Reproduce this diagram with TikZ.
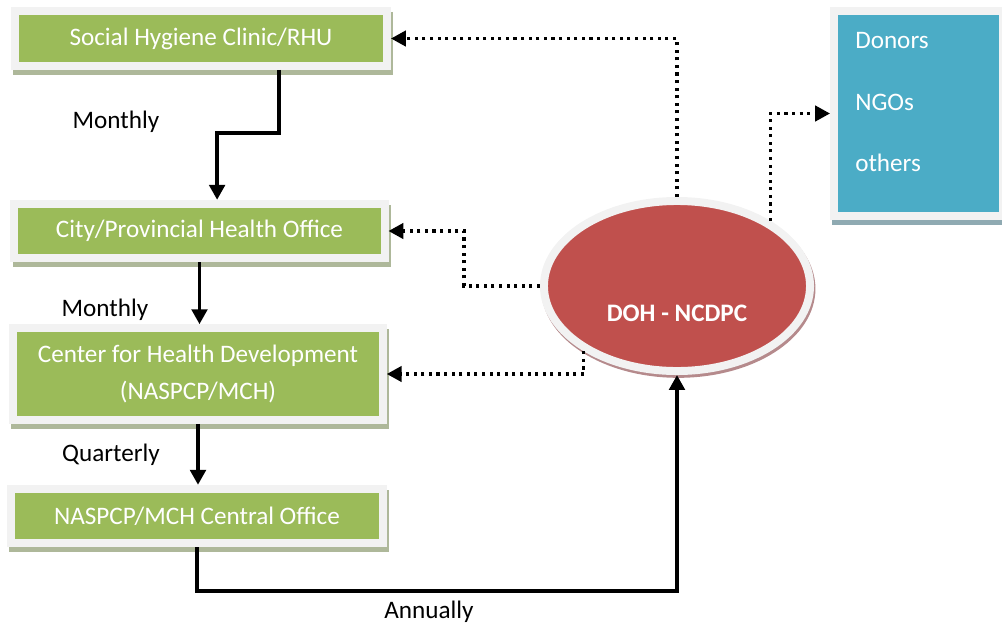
\documentclass[tikz,border=0pt]{standalone}
\usepackage{fontspec}
\setmainfont{Carlito}
\usetikzlibrary{arrows.meta,shapes.geometric,shadows}
\definecolor{boxgreen}{HTML}{9BBB59}
\definecolor{boxblue}{HTML}{4BACC6}
\definecolor{boxred}{HTML}{C0504D}
\definecolor{framegray}{HTML}{F2F2F2}
\definecolor{shadegreen}{HTML}{AEB89A}
\definecolor{shadeblue}{HTML}{8FAAB2}
\definecolor{shadered}{HTML}{B58A8C}
\newcommand{\chartfont}{\fontsize{17.9}{26.5}\selectfont}

\begin{document}
\begin{tikzpicture}[x=0.025cm,y=-0.025cm]
\tikzstyle{every node}+=[inner sep=0pt]
\tikzstyle{greenbox}=[draw=framegray, line width=5.67pt, fill=boxgreen, text=white,
  align=center, font=\chartfont, minimum width=9.3cm,
  drop shadow={shadow xshift=1.5pt, shadow yshift=-3.5pt, fill=shadegreen, draw=shadegreen, opacity=1}]
\tikzstyle{flow}=[black, line width=2.6pt, -{Triangle[length=10.6pt,width=11pt]}]
\tikzstyle{report}=[black, line width=2.2pt, dash pattern=on 2.2pt off 3.2pt,
  -{Triangle[length=10.6pt,width=11pt]}]
\tikzstyle{lbl}=[font=\chartfont, text=black]
\useasboundingbox (0,0) rectangle (1002,627);
% left column
\node [greenbox, minimum height=1.375cm] (shc) at (201,38.5) {Social Hygiene Clinic/RHU};
\node [greenbox, minimum width=9.25cm, minimum height=1.36cm] (cpho) at (199.5,231) {City/Provincial Health Office};
\node [greenbox, minimum width=9.24cm, minimum height=2.29cm] (chd) at (198,374) {Center for Health Development\\(NASPCP/MCH)};
\node [greenbox, minimum height=1.36cm] (naspcp) at (197,516) {NASPCP/MCH Central Office};
% right side
\node [draw=framegray, line width=5.67pt, fill=boxblue, minimum width=4.225cm, minimum height=5.125cm,
  drop shadow={shadow xshift=1.5pt, shadow yshift=-3.5pt, fill=shadeblue, draw=shadeblue, opacity=1}] (donors) at (918.5,113.5) {};
\node [lbl, text=white, align=left, anchor=north west, font=\fontsize{17.9}{43.9}\selectfont] (others) at (855,32) {Donors\\NGOs\\others};
\node [ellipse, draw=framegray, line width=5.67pt, fill=boxred, minimum width=6.65cm, minimum height=4.25cm,
  drop shadow={shadow xshift=1pt, shadow yshift=-2pt, fill=shadered, draw=shadered, opacity=1}] (doh) at (677,286) {};
\node [lbl, text=white, font=\chartfont\bfseries] (dohtxt) at (677,313) {DOH - NCDPC};
% frequency labels
\node [lbl] (m1) at (116,122) {Monthly};
\node [lbl] (m2) at (105,310) {Monthly};
\node [lbl] (q1) at (111,455) {Quarterly};
\node [lbl] (a1) at (429,612) {Annually};
% reporting lines
\draw [flow] ([xshift=1.95cm]shc.south) -- ++(0,63) -| ([xshift=0.44cm]cpho.north);
\draw [flow] (cpho.south) -- (cpho.south |- chd.north);
\draw [flow] (chd.south) -- (chd.south |- naspcp.north);
\draw [flow] (naspcp.south) -- ++(0,44) -| (doh.south);
% feedback lines
\draw [report] (doh.north) |- (shc.east);
\draw [report] (doh.west) -- ++(-76,0) |- (cpho.east);
\draw [report] (doh.215) |- (chd.east);
\draw [report] (doh.35) |- (donors.west);
\end{tikzpicture}
\end{document}
